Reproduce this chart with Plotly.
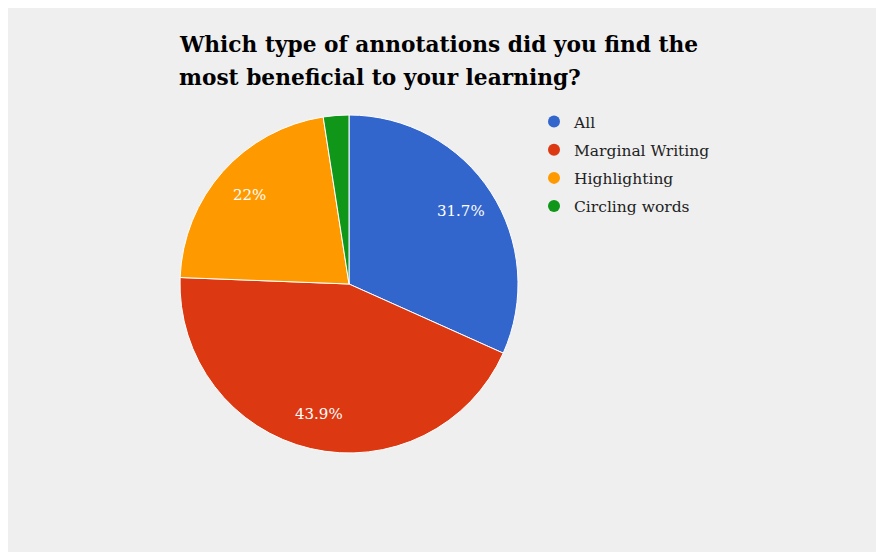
import math
import plotly.graph_objects as go

labels = ["All", "Marginal Writing", "Highlighting", "Circling words"]
values = [13, 18, 9, 1]
colors = ["#3366cc", "#dc3912", "#ff9900", "#109618"]
title_lines = ["Which type of annotations did you find the", "most beneficial to your learning?"]

total = sum(values)
texts = []
for v in values:
    p = round(v / total * 100, 1)
    texts.append(f"{p:g}%" if p >= 5 else "")

W, H = 876, 544
cx, cy, r = 341, 276, 169

fig = go.Figure()
fig.add_trace(go.Pie(
    labels=labels, values=values, textinfo="none",
    sort=False, direction="clockwise", rotation=0,
    marker=dict(colors=colors, line=dict(color="#ffffff", width=1)),
    domain=dict(x=[(cx - r) / W, (cx + r) / W], y=[(H - cy - r) / H, (H - cy + r) / H]),
    showlegend=False, hoverinfo="label+percent",
))
for lab, col in zip(labels, colors):
    fig.add_trace(go.Scatter(
        x=[None], y=[None], mode="markers", name=lab, legendgroup=lab,
        marker=dict(symbol="circle", size=15, color=col),
    ))

# slice percentage labels placed along each slice's bisector
cum = 0
for v, t in zip(values, texts):
    mid = (cum + v / 2) / total * 2 * math.pi
    cum += v
    if not t:
        continue
    px = cx + 0.79 * r * math.sin(mid)
    py = cy - 0.79 * r * math.cos(mid)
    fig.add_annotation(
        x=px / W, y=1 - py / H, xref="paper", yref="paper",
        text=t, showarrow=False, xanchor="center", yanchor="middle",
        font=dict(family="DejaVu Serif", size=15, color="#ffffff"),
    )

# title lines
for i, line in enumerate(title_lines):
    fig.add_annotation(
        x=169 / W, y=1 - (37 + 32 * i) / H, xref="paper", yref="paper",
        text=f"<b>{line}</b>", showarrow=False, xanchor="left", yanchor="middle",
        font=dict(family="DejaVu Serif", size=21.7, color="#000000"),
    )

fig.update_layout(
    width=W, height=H,
    paper_bgcolor="#efefef", plot_bgcolor="#efefef",
    margin=dict(l=0, r=0, t=0, b=0),
    xaxis=dict(visible=False), yaxis=dict(visible=False),
    legend=dict(
        x=526 / W, xanchor="left", y=1 - 97 / H, yanchor="top",
        font=dict(family="DejaVu Serif", size=15.5, color="#222222"),
        bgcolor="rgba(0,0,0,0)", tracegroupgap=5, itemsizing="constant",
    ),
)
fig.write_html("out.html")
